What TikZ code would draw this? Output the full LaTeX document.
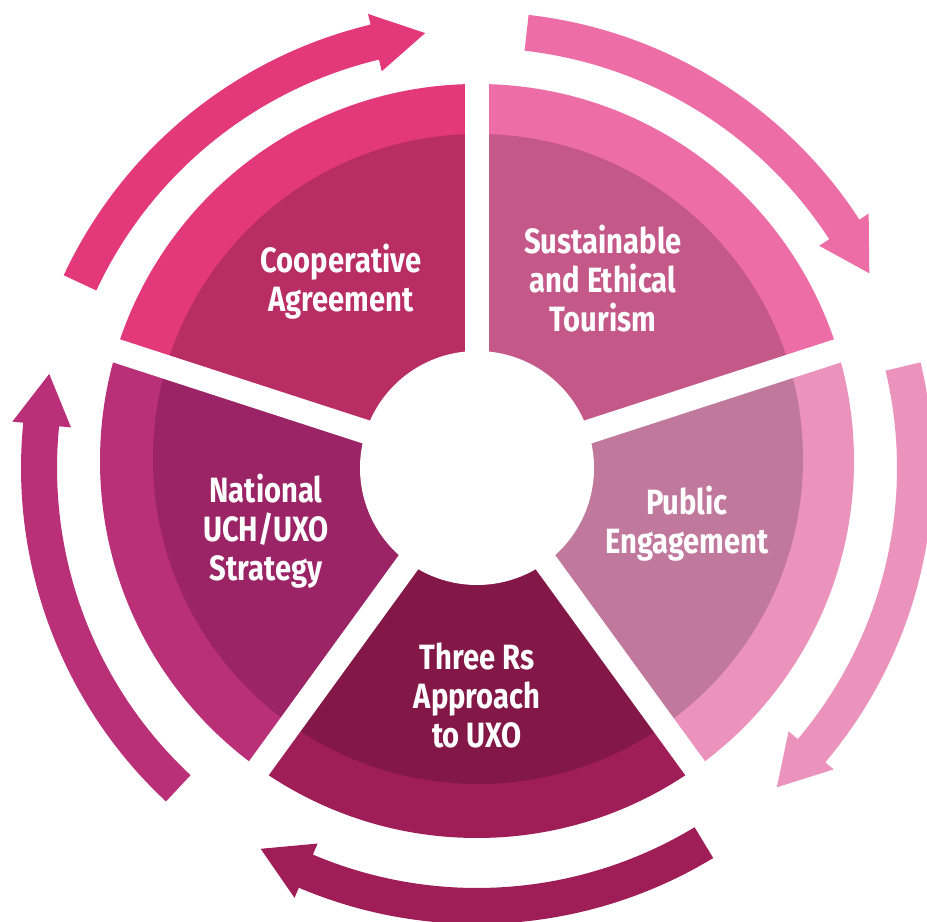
\documentclass[tikz,border=0pt]{standalone}
\usepackage{fontspec}
\newfontfamily\stagefont{Fira Sans}[FakeStretch=0.83]

\definecolor{coopout}{HTML}{E3397B}
\definecolor{coopin}{HTML}{B82D63}
\definecolor{tourout}{HTML}{ED6DA6}
\definecolor{tourin}{HTML}{C45889}
\definecolor{pubout}{HTML}{EB93BD}
\definecolor{pubin}{HTML}{C0799D}
\definecolor{rsout}{HTML}{A01E58}
\definecolor{rsin}{HTML}{831848}
\definecolor{natout}{HTML}{B93079}
\definecolor{natin}{HTML}{9A2465}

% one ring segment: start angle, end angle, rim colour, core colour
\newcommand{\stagewedge}[4]{%
  \begin{scope}
    \clip (hub) -- ++(#1:520) arc[start angle=#1, end angle=#2, radius=520] -- cycle;
    \fill[#3] (rim) circle[radius=377];
    \fill[#4] (core) circle[radius=325];
  \end{scope}}

% curved arrow outside the ring: colour, tail angle, head angle, tip angle
\newcommand{\cyclearrow}[4]{%
  \fill[#1] ([shift={(#2:420)}]hub) -- ([shift={(#2:456)}]hub)
    arc[start angle=#2, end angle=#3, radius=456]
    -- ([shift={(#3:467)}]hub) -- ([shift={(#4:438)}]hub) -- ([shift={(#3:408)}]hub)
    -- ([shift={(#3:420)}]hub) arc[start angle=#3, end angle=#2, radius=420] -- cycle;}

\begin{document}
\begin{tikzpicture}[
    x=0.02cm, y=0.02cm,
    stage/.style={text=white, align=center, inner sep=0pt,
      font=\stagefont\bfseries\fontsize{20}{22.2}\selectfont},
    gapline/.style={draw=white, line width=0.48cm}
]
\useasboundingbox (0,0) rectangle (927,922);

\coordinate (hub) at (477,454);
\coordinate (rim) at (477,461);
\coordinate (core) at (478,463);

% ring segments
\stagewedge{90}{162}{coopout}{coopin}
\stagewedge{18}{90}{tourout}{tourin}
\stagewedge{-54}{18}{pubout}{pubin}
\stagewedge{-126}{-54}{rsout}{rsin}
\stagewedge{162}{234}{natout}{natin}

% white gaps and centre hole
\foreach \a in {90,18,-54,-126,162}
  \path[gapline] (hub) -- ++(\a:400);
\fill[white] (hub) circle[radius=117];

% arrows round the ring
\cyclearrow{coopout}{155}{103.5}{96.8}
\cyclearrow{tourout}{83.5}{33}{26.4}
\cyclearrow{pubout}{13.4}{-40.2}{-46.8}
\cyclearrow{rsout}{-58.8}{-113}{-119.6}
\cyclearrow{natout}{-133}{-185.7}{-192.4}

% labels
\node[stage] (coop) at (341,640) {Cooperative\\Agreement};
\node[stage] (tourism) at (603,643) {Sustainable\\and Ethical\\Tourism};
\node[stage] (public) at (687,398) {Public\\Engagement};
\node[stage] (threers) at (477,227) {Three Rs\\Approach\\to UXO};
\node[stage] (national) at (266,391) {National\\UCH/UXO\\Strategy};
\end{tikzpicture}
\end{document}
